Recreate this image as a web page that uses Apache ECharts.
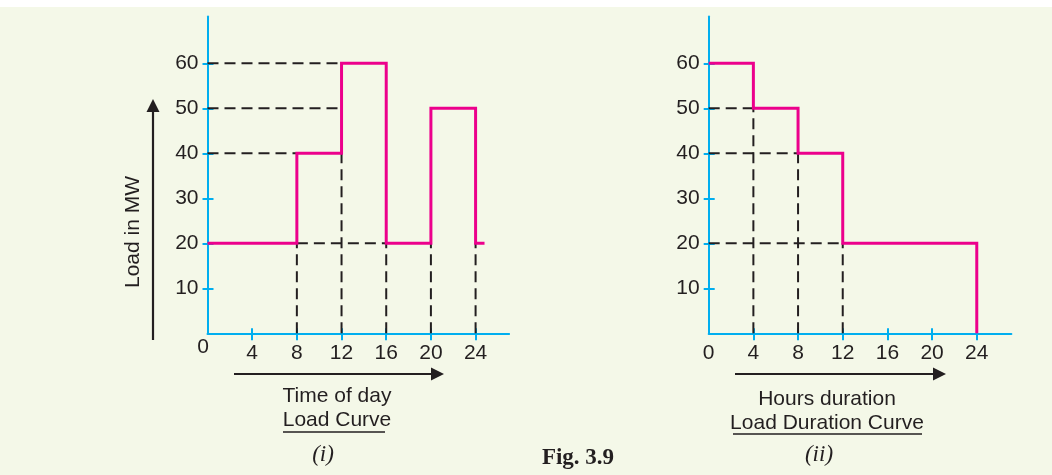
<!DOCTYPE html>
<html><head><meta charset="utf-8">
<script src="https://cdn.jsdelivr.net/npm/echarts@6/dist/echarts.min.js"></script>
<style>html,body{margin:0;padding:0;background:#f4f8e8}#c{width:1052px;height:475px}</style>
</head><body><div id="c"></div>
<script>
// ---- data ----
const segStart1 = [0, 8, 12, 16, 20, 24];
const segEnd1   = [8, 12, 16, 20, 24, 24.8];
const segLoad1  = [20, 40, 60, 20, 50, 20];
const segStart2 = [0, 4, 8, 12];
const segEnd2   = [4, 8, 12, 24];
const segLoad2  = [60, 50, 40, 20];
const yTickValues = [10, 20, 30, 40, 50, 60];
const xTickValues = [4, 8, 12, 16, 20, 24];
const xLabels1 = [4, 8, 12, 16, 20, 24];
const xLabels2 = [0, 4, 8, 12, 16, 20, 24];
// guide lines [x1, y1, x2, y2]
const guides1 = [[0,60,12,60],[0,50,12,50],[0,40,8,40],[8,20,16,20],[8,0,8,20],[12,0,12,40],[16,0,16,20],[20,0,20,20],[24,0,24,20]];
const guides2 = [[0,50,4,50],[0,40,8,40],[0,20,12,20],[4,0,4,50],[8,0,8,40],[12,0,12,20]];

const BLUE = '#00aeef', PINK = '#ec008c', INK = '#231f20';
const SANS = '"Liberation Sans", Arial, Helvetica, sans-serif';
const SERIF = '"Liberation Serif", "Times New Roman", serif';

function steps(s, e, v) {
  const p = [];
  for (let i = 0; i < s.length; i++) { p.push([s[i], v[i]], [e[i], v[i]]); }
  return p;
}
const pts1 = steps(segStart1, segEnd1, segLoad1);
const pts2 = steps(segStart2, segEnd2, segLoad2);
pts2.push([segEnd2[segEnd2.length - 1], 0]);

function xAxes(gi, labels, max) {
  return [
    { gridIndex: gi, type: 'value', min: 0, max: max, position: 'bottom',
      axisLine: { lineStyle: { color: BLUE, width: 2 } },
      axisTick: { show: true, length: 7, customValues: xTickValues, lineStyle: { color: BLUE, width: 2 } },
      axisLabel: { customValues: labels, margin: 9, color: INK, fontSize: 21, fontFamily: SANS },
      splitLine: { show: false } },
    { gridIndex: gi, type: 'value', min: 0, max: max, position: 'bottom',
      axisLine: { show: false },
      axisTick: { show: true, inside: true, length: 5, customValues: xTickValues, lineStyle: { color: BLUE, width: 2 } },
      axisLabel: { show: false }, splitLine: { show: false } }
  ];
}
function yAxes(gi) {
  return [
    { gridIndex: gi, type: 'value', min: 0, max: 70.4, position: 'left',
      axisLine: { show: true, lineStyle: { color: BLUE, width: 2 } },
      axisTick: { show: true, length: 5, customValues: yTickValues, lineStyle: { color: BLUE, width: 2 } },
      axisLabel: { customValues: yTickValues, margin: 9, color: INK, fontSize: 21, fontFamily: SANS },
      splitLine: { show: false } },
    { gridIndex: gi, type: 'value', min: 0, max: 70.4, position: 'left',
      axisLine: { show: false },
      axisTick: { show: true, inside: true, length: 6, customValues: yTickValues, lineStyle: { color: BLUE, width: 2 } },
      axisLabel: { show: false }, splitLine: { show: false } }
  ];
}

const series = [];
function addGuides(gs, gi) {
  gs.forEach(g => series.push({
    type: 'line', xAxisIndex: gi * 2, yAxisIndex: gi * 2, data: [[g[0], g[1]], [g[2], g[3]]],
    symbol: 'none', silent: true, z: 2,
    lineStyle: { color: INK, width: 2, type: [11, 6] }
  }));
}
addGuides(guides1, 0);
addGuides(guides2, 1);
series.push({ type: 'line', xAxisIndex: 0, yAxisIndex: 0, data: pts1, symbol: 'none', silent: true, z: 3,
  lineStyle: { color: PINK, width: 3, join: 'miter' } });
series.push({ type: 'line', xAxisIndex: 2, yAxisIndex: 2, data: pts2, symbol: 'none', silent: true, z: 3,
  lineStyle: { color: PINK, width: 3, join: 'miter' } });

function hArrow(x1, x2, y) {
  return [
    { type: 'line', shape: { x1: x1, y1: y, x2: x2 - 10, y2: y }, style: { stroke: INK, lineWidth: 2.2 } },
    { type: 'polygon', shape: { points: [[x2, y], [x2 - 13, y - 6.5], [x2 - 13, y + 6.5]] }, style: { fill: INK } }
  ];
}
function txt(t, x, y, size, family, extra) {
  return { type: 'text', x: x, y: y, style: Object.assign({ text: t, fontSize: size, fontFamily: family, fill: INK,
    align: 'center', verticalAlign: 'middle' }, extra || {}) };
}

const graphic = [
  { type: 'rect', shape: { x: 0, y: 0, width: 1052, height: 7 }, style: { fill: '#ffffff' } },
  // chart (i) y arrow + title
  { type: 'line', shape: { x1: 153, y1: 340, x2: 153, y2: 110 }, style: { stroke: INK, lineWidth: 2.2 } },
  { type: 'polygon', shape: { points: [[153, 99], [146.5, 112], [159.5, 112]] }, style: { fill: INK } },
  Object.assign(txt('Load in MW', 133, 232, 21, SANS), { rotation: Math.PI / 2 }),
  txt('0', 203, 347, 21, SANS),
  ...hArrow(234, 444, 374),
  txt('Time of day', 337, 396, 21, SANS),
  txt('Load Curve', 337, 420, 21, SANS),
  { type: 'line', shape: { x1: 283, y1: 432, x2: 385, y2: 432 }, style: { stroke: INK, lineWidth: 1.5 } },
  txt('(i)', 323, 455, 23, SERIF, { fontStyle: 'italic' }),
  // chart (ii)
  ...hArrow(735, 946, 374),
  txt('Hours duration', 827, 399, 21, SANS),
  txt('Load Duration Curve', 827, 423, 21, SANS),
  { type: 'line', shape: { x1: 733, y1: 434, x2: 922, y2: 434 }, style: { stroke: INK, lineWidth: 1.5 } },
  txt('(ii)', 819, 455, 23, SERIF, { fontStyle: 'italic' }),
  txt('Fig. 3.9', 578, 458, 23, SERIF, { fontWeight: 'bold' })
];

const chart = echarts.init(document.getElementById('c'));
chart.setOption({
  animation: false,
  backgroundColor: '#f4f8e8',
  grid: [
    { left: 207.5, top: 16.5, width: 301.6, height: 316.8 },
    { left: 708.7, top: 16.5, width: 302.7, height: 316.8 }
  ],
  xAxis: [...xAxes(0, xLabels1, 27), ...xAxes(1, xLabels2, 27.1)],
  yAxis: [...yAxes(0), ...yAxes(1)],
  series: series,
  graphic: graphic
});
</script>
</body></html>
